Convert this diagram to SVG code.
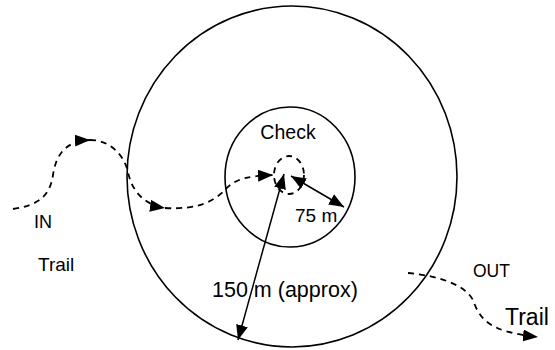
<svg xmlns="http://www.w3.org/2000/svg" width="555" height="350" viewBox="0 0 555 350">
  <style>
    .ring { fill: none; stroke: #000; stroke-width: 1.6; }
    .dash { fill: none; stroke: #000; stroke-width: 1.8; stroke-dasharray: 6 5; }
    .solid { fill: none; stroke: #000; stroke-width: 1.5; }
    text { font-family: "Liberation Sans", Arial, sans-serif; fill: #000; }
  </style>
  <defs>
    <marker id="ah" viewBox="0 0 15 12" refX="15" refY="6" markerWidth="15" markerHeight="12" markerUnits="userSpaceOnUse" orient="auto-start-reverse">
      <path d="M0,0 L15,6 L0,12 Z" fill="#000"/>
    </marker>
  </defs>
  <rect width="555" height="350" fill="#fff"/>

  <g id="outer-zone">
    <ellipse class="ring" cx="292" cy="176.5" rx="165" ry="170.5"/>
  </g>
  <g id="inner-zone">
    <ellipse class="ring" cx="290" cy="177" rx="65" ry="70"/>
    <text x="288" y="139" font-size="19.5" text-anchor="middle">Check</text>
  </g>
  <g id="checkpoint">
    <ellipse class="dash" cx="289" cy="175" rx="15" ry="19" stroke-dasharray="7 5"/>
  </g>
  <g id="in-label">
    <text x="34" y="228" font-size="18">IN</text>
    <text x="38" y="271" font-size="19">Trail</text>
  </g>
  <g id="out-label">
    <text x="473" y="277" font-size="17.5">OUT</text>
    <text x="505" y="325" font-size="23">Trail</text>
  </g>

  <g id="connectors">
    <path class="dash" d="M13,209 C40,205 50,195 53,175 C56,155 65,141 90,140" marker-end="url(#ah)"/>
    <path class="dash" d="M90,140 C110,140 124,155 128,172 C132,192 145,205 165,208" marker-end="url(#ah)"/>
    <path class="dash" d="M165,208 C200,210 215,200 225,190 C235,178 250,176 273,175" marker-end="url(#ah)"/>
    <path class="dash" d="M408,273 C440,276 465,285 473,300 C480,320 490,332 538,337" marker-end="url(#ah)"/>
    <line class="solid" x1="284" y1="174" x2="238" y2="340" marker-start="url(#ah)" marker-end="url(#ah)"/>
    <line class="solid" x1="291" y1="176" x2="344" y2="207" marker-start="url(#ah)" marker-end="url(#ah)"/>
  </g>
  <g id="dimension-labels">
    <text x="295" y="222" font-size="19">75 m</text>
    <text x="212" y="297" font-size="21.5">150 m (approx)</text>
  </g>
</svg>
